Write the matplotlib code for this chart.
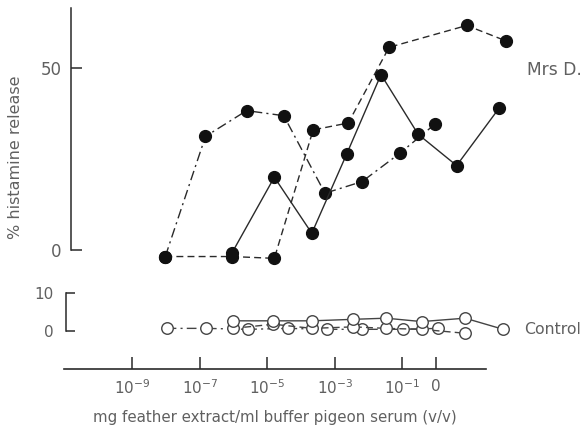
import matplotlib.pyplot as plt

# x positions are log10 of concentration ("0" tick = 10^0)
# Mrs D. (upper panel, % histamine release)
dd_x = [-8.02, -6.83, -5.61, -4.51, -3.29, -2.19, -1.07, -0.03]
dd_y = [-1.8, 31.2, 38.3, 36.9, 15.6, 18.8, 26.6, 34.6]
da_x = [-8.02, -6.05, -4.79, -3.64, -2.60, -1.39, 0.91, 2.06]
da_y = [-1.8, -1.8, -2.3, 33.0, 34.9, 55.7, 61.7, 57.5]
so_x = [-6.05, -4.79, -3.68, -2.65, -1.63, -0.53, 0.61, 1.87]
so_y = [-0.9, 20.0, 4.6, 26.3, 48.2, 31.8, 23.2, 39.0]

# Control (lower panel)
c_dd_x = [-7.98, -6.82, -5.56, -4.38, -3.24, -2.20, -0.99, 0.07]
c_dd_y = [0.7, 0.7, 0.45, 0.7, 0.45, 0.45, 0.45, 0.7]
c_so_x = [-6.01, -4.82, -3.67, -2.45, -1.48, -0.43, 0.86, 1.99]
c_so_y = [2.7, 2.7, 2.7, 3.1, 3.4, 2.5, 3.4, 0.45]
c_da_x = [-6.01, -4.82, -3.67, -2.45, -1.48, -0.43, 0.86]
c_da_y = [0.7, 1.8, 0.7, 1.1, 0.7, 0.45, -0.6]

xticks = [-9, -7, -5, -3, -1, 0]
xticklabels = ['$10^{-9}$', '$10^{-7}$', '$10^{-5}$', '$10^{-3}$', '$10^{-1}$', '0']

W, H = 582, 433
ink = '#2a2a2a'
txt = '#606060'
xlim = (-11.02, 1.48)


def box(x0, y0, x1, y1):
    return [x0 / W, 1 - y1 / H, (x1 - x0) / W, (y1 - y0) / H]


fig = plt.figure(figsize=(W / 100, H / 100), dpi=100)

dashdot = (0, (7, 3, 1.5, 3))
dashed = (0, (5, 3))

# upper panel
ax = fig.add_axes(box(64, 8, 486, 270))
ax.set_xlim(*xlim)
ax.set_ylim(-5.5, 66.5)
for s in ['top', 'right', 'bottom']:
    ax.spines[s].set_visible(False)
ax.spines['left'].set_position(('data', -10.80))
ax.spines['left'].set_bounds(0, 66.5)
ax.spines['left'].set_color(ink)
ax.spines['left'].set_linewidth(1.1)
ax.set_xticks([])
ax.set_yticks([0, 50])
ax.tick_params(axis='y', direction='in', length=8, width=1.1, color=ink,
               labelcolor=txt, labelsize=12, pad=7)
ax.set_ylabel('% histamine release', color=txt, fontsize=11.5)
ax.yaxis.set_label_coords(-0.098, 0.43)
for xs, ys, ls in [(dd_x, dd_y, dashdot), (da_x, da_y, dashed), (so_x, so_y, '-')]:
    ax.plot(xs, ys, linestyle=ls, color=ink, lw=1.0, marker='o', ms=8.5,
            mfc='#111111', mec='#111111', clip_on=False)

# lower panel
ax2 = fig.add_axes(box(64, 285, 486, 345))
ax2.set_xlim(*xlim)
ax2.set_ylim(-3.71, 12.2)
for s in ['top', 'right', 'bottom']:
    ax2.spines[s].set_visible(False)
ax2.spines['left'].set_position(('data', -10.97))
ax2.spines['left'].set_bounds(0, 10)
ax2.spines['left'].set_color(ink)
ax2.spines['left'].set_linewidth(1.1)
ax2.set_xticks([])
ax2.set_yticks([0, 10])
ax2.tick_params(axis='y', direction='in', length=6.5, width=1.1, color=ink,
                labelcolor=txt, labelsize=11, pad=9)
for xs, ys, ls in [(c_dd_x, c_dd_y, dashdot), (c_da_x, c_da_y, dashed), (c_so_x, c_so_y, '-')]:
    ax2.plot(xs, ys, linestyle=ls, color='#444444', lw=1.0, marker='o', ms=8.3,
             mfc='white', mec='#444444', mew=1.0, clip_on=False)

# x axis
ax3 = fig.add_axes(box(64, 350, 486, 369))
ax3.set_xlim(*xlim)
for s in ['top', 'right', 'left']:
    ax3.spines[s].set_visible(False)
ax3.spines['bottom'].set_color(ink)
ax3.spines['bottom'].set_linewidth(1.2)
ax3.set_yticks([])
ax3.set_xticks(xticks)
ax3.set_xticklabels(xticklabels)
ax3.tick_params(axis='x', direction='in', length=8.5, width=1.1, color=ink,
                labelcolor=txt, labelsize=11, pad=7)
ax3.patch.set_alpha(0)
ax3.set_xlabel('mg feather extract/ml buffer pigeon serum (v/v)', color=txt,
               fontsize=10.8, labelpad=9)

fig.text(527 / W, 1 - 70 / H, 'Mrs D.', color=txt, fontsize=12.3, va='center', ha='left')
fig.text(524 / W, 1 - 330 / H, 'Control', color=txt, fontsize=11.3, va='center', ha='left')

fig.savefig('out.png', dpi=100)
